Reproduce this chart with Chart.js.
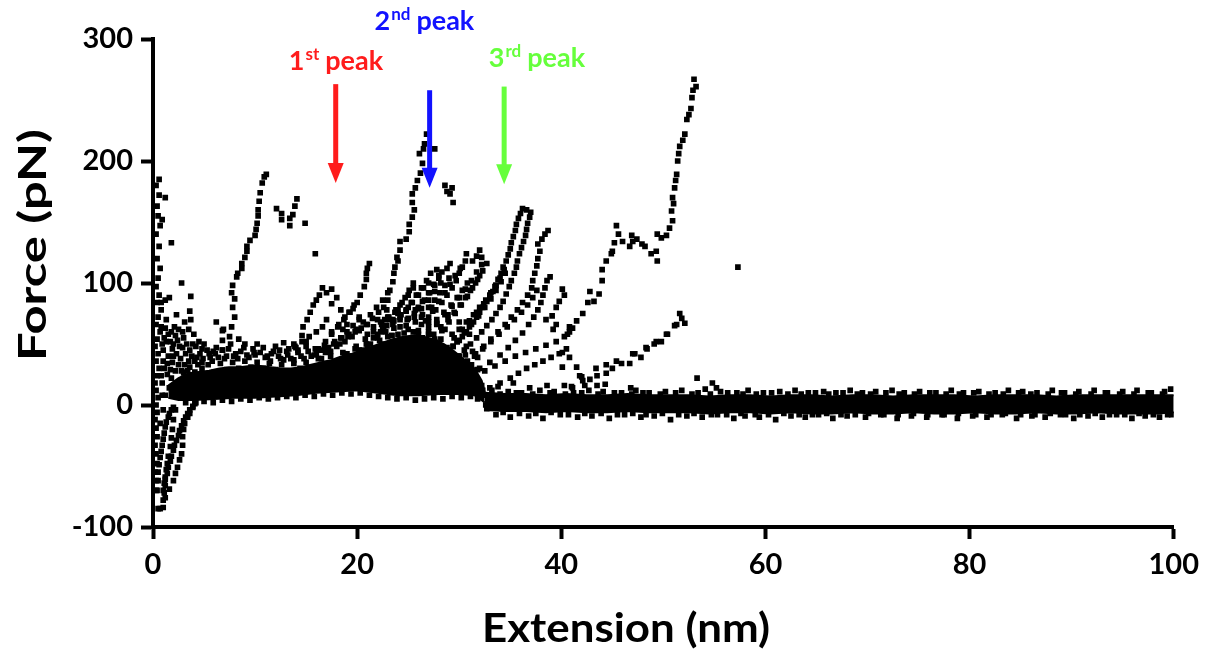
<!DOCTYPE html>
<html>
<head>
<meta charset="utf-8">
<script src="https://cdn.jsdelivr.net/npm/chart.js@4.4.1/dist/chart.umd.min.js"></script>
<style>
  html, body { margin: 0; padding: 0; background: #fff; }
  #wrap { width: 1207px; height: 655px; }
</style>
</head>
<body>
<div id="wrap"><canvas id="forceChart"></canvas></div>
<script>
// tick values
const xTicks = [0, 20, 40, 60, 80, 100];
const yTicks = [-100, 0, 100, 200, 300];

// solid part of the unfolding cloud (upper / lower edge), [extension nm, force pN]
const cloudTop = [[1.5,16],[2.5,22],[3.5,26],[4.5,27],[5.5,28],[6.5,30],[7.5,31],[8.5,31],[9.5,32],[10.5,32],[11.5,31],[12.5,30],[13.5,30],[14.5,31],[15.5,33],[16.5,35],[17.5,37],[18.5,40],[19.5,42],[20.5,45],[21.5,48],[22.5,51],[23.5,54],[24.5,56],[25.5,57],[26.5,56],[27.5,54],[28.5,50],[29.5,44],[30.5,37],[31.5,30],[32.2,20],[32.5,10]];
const cloudBottom = [[1.5,6],[2.5,4],[4,4],[6,5],[8,6],[10,6],[12,7],[14,8],[16,10],[18,11],[20,12],[22,10],[24,8],[26,8],[28,9],[30,9],[31.5,8],[32.5,2]];

// baseline after detachment (upper / lower edge)
const baseTop = [[32.5,10],[34.5,9],[36.5,9],[38.5,8],[40.5,9],[42.5,8],[44.5,8],[46.5,9],[48.5,8],[50.5,8],[52.5,8],[54.5,7],[56.5,8],[58.5,8],[60.5,7],[62.5,8],[64.5,8],[66.5,7],[68.5,8],[70.5,8],[72.5,7],[74.5,8],[76.5,8],[78.5,8],[80.5,7],[82.5,8],[84.5,8],[86.5,8],[88.5,7],[90.5,8],[92.5,8],[94.5,8],[96.5,8],[98.5,8],[100,8]];
const baseBottom = [[32.5,-4],[34.5,-5],[36.5,-5],[38.5,-6],[40.5,-5],[42.5,-6],[44.5,-6],[46.5,-5],[48.5,-6],[50.5,-6],[52.5,-6],[54.5,-7],[56.5,-6],[58.5,-6],[60.5,-7],[62.5,-6],[64.5,-7],[66.5,-7],[68.5,-6],[70.5,-7],[72.5,-7],[74.5,-6],[76.5,-7],[78.5,-7],[80.5,-6],[82.5,-7],[84.5,-7],[86.5,-6],[88.5,-7],[90.5,-7],[92.5,-6],[94.5,-7],[96.5,-7],[98.5,-7],[100,-6]];

// individual traces
const wall = [[0.3,-70],[0.3,-62],[0.2,-55],[0.4,-48],[0.3,-40],[0.2,-33],[0.4,-26],[0.3,-19],[0.2,-12],[0.4,-6],[0.3,0],[0.5,6],[0.3,12],[0.2,18],[0.4,24],[0.6,30],[0.3,36],[0.5,42],[0.2,48],[0.4,54],[0.7,60],[0.3,66],[0.5,72],[0.8,78],[0.4,84],[0.6,90],[0.3,97],[0.5,104],[0.7,112],[0.4,120],[0.6,130],[0.3,140],[0.7,147],[0.5,155],[0.9,152],[0.4,163],[0.6,172],[0.3,180],[0.6,185],[1.2,170],[1.8,133],[0.9,8],[1.0,-4],[0.7,-15],[0.8,24],[1.0,36]];
const dipA = [[0.5,-85],[1.0,-84],[1.0,-78],[1.1,-72],[1.2,-66],[1.2,-61],[1.4,-56],[1.5,-51],[1.7,-46],[1.8,-42],[2.0,-37],[2.1,-33],[2.3,-29],[2.5,-25],[2.6,-21],[2.8,-17],[3.0,-13],[3.2,-10],[3.4,-7],[3.6,-4],[3.9,-1],[4.2,2]];
const dipB = [[0.7,-85],[1.0,-70],[1.1,-64],[1.2,-59],[1.3,-53],[1.4,-48],[1.5,-42],[1.7,-34],[1.8,-27],[1.9,-20],[2.0,-12],[2.2,-4]];
const dipC = [[1.2,-76],[1.6,-69],[2.0,-62],[2.2,-56],[2.4,-51],[2.6,-45],[2.8,-40],[2.9,-33],[2.9,-26],[3.0,-20],[3.1,-15],[3.4,-10],[3.6,-7],[3.9,-2]];
const dipD = [[0.4,-70],[0.5,-62],[0.5,-55],[0.6,-49],[0.7,-43],[0.8,-38],[0.9,-33],[1.0,-28],[1.1,-23],[1.2,-18],[1.3,-14],[1.5,-10],[1.6,-7],[1.8,-4],[2.0,-2]];
const leftCloud = [[1.0,45],[1.3,52],[1.5,58],[1.2,63],[1.8,60],[2.2,57],[2.5,62],[2.0,50],[2.6,48],[3.0,55],[3.3,50],[3.6,45],[3.8,40],[3.5,62],[3.7,70],[3.6,77],[2.8,100],[3.7,89],[1.6,88],[1.2,86],[0.8,84],[1.5,40],[1.9,35],[2.3,42],[2.7,38],[3.1,33],[3.4,28],[1.1,30],[1.4,25],[1.8,22],[2.2,28],[2.6,18],[3.0,22],[3.3,15],[3.8,20],[4.1,27],[4.4,33],[4.6,42],[4.2,48],[4.9,38],[5.3,45],[1.6,14],[2.4,10],[2.9,8],[1.2,8],[0.9,18],[1.9,46],[2.4,53],[4.0,58],[4.5,52],
  [1.1,55],[1.7,52],[2.1,64],[2.9,60],[3.2,42],[3.9,50],[4.3,39],[4.8,46],[5.6,39],[6.1,42],[1.4,34],[2.0,40],[2.5,33],[2.9,47],[3.5,36],[4.1,36],[1.7,29],[2.8,28],[3.6,24],[4.6,24],[0.9,50],[0.8,64],[1.3,70],[2.3,74],[3.1,68]];
const traceA = [[6.8,45],[6.8,53],[6.8,61],[7.5,56],[7.7,64],[8.0,72],[7.8,80],[8.0,87],[7.7,92],[7.8,98],[8.2,105],[8.3,108],[8.7,112],[8.7,116],[9.0,121],[9.2,126],[9.2,130],[9.5,135],[10.0,139],[10.1,144],[10.2,149],[10.3,155],[10.3,160],[10.4,167],[10.5,174],[10.7,182],[10.9,187],[11.1,189]];
const shoulder = [[12.1,161],[12.6,157],[12.6,152],[13.4,147],[13.4,153],[13.7,156],[13.9,163],[14.1,169],[14.9,149],[15.9,124]];
const traceD = [[13.8,50],[14.6,57],[14.7,64],[15.1,70],[15.4,76],[15.7,82],[16.0,86],[16.3,90],[16.6,96],[17.0,92],[17.5,95],[18.0,88],[17.5,83],[18.4,78],[14.2,45],[15.0,52],[17.0,70],[18.6,62]];
const traceC = [[17.5,60],[18.2,66],[18.8,72],[19.3,76],[19.6,79],[20.0,84],[20.3,90],[20.7,97],[20.9,103],[20.9,108],[21.0,112],[21.2,116]];
const traceB = [[22.5,62],[22.7,70],[22.9,78],[23.0,86],[23.2,94],[23.5,101],[23.6,108],[23.7,113],[23.9,121],[24.0,118],[24.2,127],[24.2,134],[24.8,136],[25.1,142],[25.1,148],[25.4,154],[25.6,160],[25.4,166],[25.4,173],[25.7,178],[25.9,184],[26.2,190],[26.4,198],[26.1,206],[26.5,210],[26.6,214],[26.8,222],[27.6,210],[28.6,180],[29.3,178],[29.1,173],[29.4,166],[28.8,175]];
const fanE1 = [[27.0,30],[27.6,35],[28.2,40],[28.8,44],[29.4,48],[29.8,52],[30.3,56],[30.7,60],[31.0,64],[31.4,68],[31.7,72],[32.0,76],[32.3,80],[32.7,85],[33.0,89],[33.3,93],[33.6,98],[33.8,103],[34.1,108],[34.3,113],[34.6,118],[34.8,123],[35.0,128],[35.1,133],[35.3,138],[35.5,143],[35.6,148],[35.8,153],[36.0,157],[36.2,161],[36.6,160]];
const fanE2 = [[28.5,30],[29.2,35],[29.9,40],[30.5,45],[31.1,50],[31.7,55],[32.2,60],[32.7,65],[33.2,70],[33.6,75],[34.0,80],[34.3,85],[34.6,91],[34.9,97],[35.1,102],[35.4,108],[35.6,113],[35.7,118],[35.9,124],[36.1,129],[36.3,134],[36.5,139],[36.6,144],[36.7,149],[36.9,154],[37.0,158]];
const fanE3 = [[30.0,30],[30.8,36],[31.6,42],[32.4,48],[33.1,54],[33.8,60],[34.5,66],[35.1,72],[35.7,78],[36.2,84],[36.7,90],[37.1,96],[37.2,102],[37.4,108],[37.6,114],[37.7,120],[37.9,126],[37.7,132],[38.1,136],[38.4,140],[38.7,143]];
const fanE4 = [[31.0,25],[32.0,30],[33.0,35],[34.0,41],[34.8,47],[35.5,53],[36.2,59],[36.8,66],[37.3,72],[37.7,78],[38.0,84],[38.2,90],[38.4,96],[38.6,102],[38.9,105]];
const fanF = [[25.5,60],[26.3,66],[27.0,72],[27.7,78],[28.3,84],[28.8,90],[29.3,96],[29.7,102],[30.0,108],[30.3,113],[30.6,118],[30.7,124],[31.3,118],[31.7,122],[32.0,127],[32.2,121]];
const fanG = [[26.0,80],[26.6,86],[27.1,92],[27.6,98],[28.0,104],[28.3,109],[28.8,112],[29.1,116],[27.8,111]];
const fanH1 = [[20.5,45],[21.3,50],[22.0,55],[22.8,60],[23.5,66],[24.2,72],[24.8,78],[25.4,84],[26.0,90],[26.5,96],[27.0,100]];
const fanH2 = [[23.0,40],[24.0,46],[25.0,52],[26.0,58],[27.0,64],[27.8,70],[28.5,76],[29.2,82],[29.8,88],[30.3,94],[30.8,100]];
const fanH3 = [[18.0,48],[18.8,52],[19.5,56],[20.2,61],[20.9,66],[21.5,71],[22.1,76],[22.6,80]];
const fanK1 = [[21.5,40],[22.3,48],[23.0,56],[23.6,63],[24.2,70],[24.8,77],[25.3,84],[25.8,90],[26.3,96],[26.8,102],[27.2,108]];
const fanK2 = [[24.5,45],[25.3,53],[26.0,61],[26.7,69],[27.4,77],[28.0,85],[28.6,92],[29.1,99],[29.6,106],[30.1,112]];
const fanK3 = [[26.0,40],[26.8,47],[27.6,54],[28.3,61],[29.0,68],[29.6,75],[30.2,82],[30.8,89],[31.3,96],[31.8,103],[32.3,110],[32.7,116]];
const fanK4 = [[29.0,45],[29.8,52],[30.5,59],[31.2,66],[31.9,73],[32.5,80],[33.1,87],[33.6,94],[34.1,101],[34.5,108]];
const fanK5 = [[31.5,40],[32.3,46],[33.1,52],[33.9,58],[34.7,64],[35.4,70],[36.1,76],[36.7,82],[37.2,88],[37.6,94]];
const fanK6 = [[19.5,40],[20.2,45],[20.9,50],[21.6,55],[22.3,60],[22.9,65],[23.5,70],[24.0,75]];
const fanL1 = [[22.0,58],[22.6,64],[23.2,70],[23.7,76],[24.2,82],[24.7,88],[25.1,94],[25.5,100]];
const fanL2 = [[25.0,62],[25.7,68],[26.4,74],[27.0,80],[27.6,86],[28.1,92],[28.6,98],[29.0,104]];
const fanL3 = [[27.5,58],[28.2,64],[28.9,70],[29.5,76],[30.1,82],[30.6,88],[31.1,94],[31.6,100],[32.0,106]];
const fanL4 = [[30.0,62],[30.7,68],[31.4,74],[32.0,80],[32.6,86],[33.1,92],[33.6,98]];
const fanL5 = [[17.0,45],[17.7,50],[18.4,55],[19.0,60],[19.6,65],[20.2,70]];
const fanM1 = [[15.5,40],[16.2,46],[16.9,52],[17.5,58],[18.1,64],[18.7,70],[19.2,76],[19.7,82]];
const fanM2 = [[16.5,38],[17.4,44],[18.3,50],[19.1,56],[19.9,62],[20.6,68],[21.3,74],[21.9,80],[22.5,86],[23.0,92]];
const fanM3 = [[19.0,42],[19.9,48],[20.8,54],[21.6,60],[22.4,66],[23.1,72],[23.8,78],[24.4,84],[25.0,90],[25.5,96]];
const fanM4 = [[22.5,50],[23.4,57],[24.2,64],[25.0,71],[25.7,78],[26.4,85],[27.0,92],[27.5,99],[28.0,106]];
const fanM5 = [[24.0,58],[24.8,65],[25.6,72],[26.3,79],[27.0,86],[27.6,93],[28.2,100]];
const fanM6 = [[27.0,60],[27.8,67],[28.6,74],[29.3,81],[30.0,88],[30.6,95],[31.2,102],[31.7,109],[32.2,115]];
const fanM7 = [[29.5,55],[30.3,62],[31.0,69],[31.7,76],[32.4,83],[33.0,90],[33.5,97],[34.0,104],[34.4,111]];
const fanM8 = [[11.5,36],[12.3,40],[13.1,44],[13.9,48],[14.6,52],[15.3,56],[16.0,60],[16.6,64]];
const cloudRim = [[3.0,27],[3.6,31],[4.2,25],[4.8,30],[5.4,33],[6.0,27],[6.6,34],[7.2,29],[7.8,35],[8.4,30],[9.0,36],[9.6,31],[10.2,35],[10.8,30],[11.4,34],[12.0,29],[12.6,33],[13.2,28],[13.8,34],[14.4,30],[15.0,35],[15.6,31],[16.2,38],[16.8,34],[17.4,40],[18.0,36],[18.6,43],[19.2,39],[19.8,46],[20.4,42],[21.0,49],[21.6,45],[22.2,53],[22.8,49],[23.4,57],[24.0,52],[24.6,59],[25.2,54],[25.8,60],[26.4,55],[27.0,58],[27.6,52],[28.2,54],[28.8,47],[29.4,48],[30.0,40],[30.6,41],[31.2,33],[31.8,29],
  [4.8,35],[5.9,44],[6.4,39],[7.4,46],[8.1,42],[8.9,47],[9.9,43],[10.8,47],[11.6,42],[12.4,45],[13.3,46],[14.2,43],[15.0,48],[15.9,46],[16.8,49],[7.6,50],[10.2,50],[12.8,51],[5.0,50],[8.4,54]];
const cloudSpecks = [[5.5,42],[6.2,47],[6.8,45],[7.2,40],[8.6,44],[9.2,41],[9.8,46],[10.5,43],[11.2,40],[11.8,44],[12.5,38],[13.2,41],[13.8,37],[14.5,40],[15.2,44],[15.8,41],[16.5,45],[17.2,47],[17.8,52],[18.5,55],[19.2,58],[19.8,60],[20.4,63],[21.0,58],[21.6,64],[22.3,68],[23.0,72],[23.6,69],[24.3,74],[24.9,70],[25.6,75],[26.3,72],[27.0,68],[27.8,66],[28.6,62],[29.3,58],[30.0,53],[30.7,48],[31.3,44],[31.8,39],[6.9,62],[6.2,68],[9.0,50],[12.0,48],[14.0,47],[19.0,66],[20.2,72],
  [7.9,40],[8.3,38],[10.0,41],[11.0,39],[12.8,37],[14.8,38],[16.0,42],[16.9,43],[7.0,38],[5.8,36],[9.4,39],[13.5,38],[24.0,78],[25.0,80],[26.0,79],[27.3,80],[28.9,74],[30.0,68],[31.0,58],[22.0,70],[21.0,66]];
const cloudFloor = [[3.2,2],[4.1,1],[5.0,3],[5.9,2],[6.8,4],[7.7,3],[8.6,5],[9.5,4],[10.4,6],[11.3,5],[12.2,6],[13.1,7],[14.0,6],[14.9,8],[15.8,7],[16.7,9],[17.6,8],[18.5,10],[19.4,9],[20.3,10],[21.2,8],[22.1,7],[23.0,6],[23.9,5],[24.8,6],[25.7,4],[26.6,5],[27.5,6],[28.4,5],[29.3,7],[30.2,6],[31.1,7],[31.8,5],[32.2,16],[32.3,12],[32.4,8],[32.6,0],[32.7,-3]];
const lowRight = [[32.5,28],[33.5,32],[34.5,36],[35.5,40],[36.5,43],[37.5,46],[38.5,49],[39.5,52],[40.3,56],[40.8,60],[33.0,14],[34.0,18],[35.0,22],[35.8,26],[36.6,30],[37.4,33],[38.2,36],[39.0,39],[39.8,42],[40.5,46],[38.5,70],[39.1,73],[39.5,80],[39.8,85],[40.1,95],[40.3,90],[39.2,62],[39.5,66],[40.8,64],[40.1,31],[40.8,39],[41.5,31],[42.0,23],[42.3,16],[43.5,16],[40.1,43],[40.3,16],[41.1,14]];
const traceI = [[40.6,58],[41.1,63],[41.5,69],[42.1,75],[42.6,84],[42.8,93],[43.2,85],[43.7,91],[44.0,102],[44.0,111],[44.4,118],[44.9,124],[45.0,126],[45.2,133],[45.4,147],[45.6,140],[46.0,134],[46.7,130],[46.9,139],[47.0,134],[47.4,136],[47.9,132],[48.2,130],[48.8,124],[49.3,126],[49.4,118],[49.4,140],[49.8,137],[50.3,139],[50.6,145],[50.9,151],[50.8,159],[51.0,165],[50.9,170],[51.1,178],[51.2,184],[51.3,189],[51.4,200],[51.5,206],[51.6,212],[51.9,217],[52.1,222],[52.3,234],[52.5,238],[52.7,243],[52.8,252],[52.9,258],[53.0,267],[53.2,261]];
const traceJ = [[41.8,24],[42.1,20],[42.8,21],[43.5,24],[44.4,26],[45.0,30],[45.9,34],[46.7,34],[47.2,42],[47.8,39],[48.4,46],[49.1,50],[49.8,52],[50.4,58],[51.1,65],[51.6,75],[51.8,71],[52.1,67],[43.4,30],[44.4,33],[45.4,36],[47.0,42],[48.3,47],[49.3,52],[50.3,58],[51.3,66]];
const strays = [[57.3,113],[53.3,22],[54.8,18],[55.2,14],[33.8,15],[35.3,18],[36.9,14],[38.6,16],[41.0,15],[44.3,17],[46.8,14]];
const baseSpecks = [[33.2,12],[34.8,11],[36.1,10],[37.9,12],[39.3,11],[41.2,10],[42.7,12],[44.1,11],[45.9,10],[47.3,12],[48.6,10],[50.2,11],[51.8,12],[53.4,10],[54.1,13],[55.6,11],[57.2,10],[58.3,12],[59.8,10],[61.4,11],[62.9,12],[64.2,10],[65.7,11],[66.9,10],[68.3,12],[69.5,10],[70.8,11],[72.4,12],[73.6,10],[75.1,11],[76.7,10],[78.2,12],[79.4,10],[80.9,11],[82.5,10],[83.8,12],[85.2,11],[86.6,10],[88.1,12],[89.3,10],[90.7,11],[92.2,12],[93.5,10],[95.0,11],[96.4,12],[97.8,10],[99.1,11],[99.7,13],
  [33.6,-8],[35.0,-10],[36.8,-9],[38.2,-11],[39.9,-8],[41.6,-10],[43.0,-9],[44.7,-11],[46.2,-8],[47.8,-10],[49.1,-9],[50.7,-12],[52.3,-9],[53.8,-10],[55.3,-8],[56.9,-11],[58.0,-9],[59.4,-10],[61.0,-12],[62.5,-9],[63.9,-10],[65.2,-8],[66.6,-11],[68.0,-9],[69.8,-10],[71.3,-8],[72.9,-11],[74.3,-9],[75.8,-10],[77.3,-8],[78.8,-11],[80.3,-9],[81.7,-10],[83.2,-8],[84.6,-11],[86.1,-9],[87.4,-10],[88.9,-8],[90.2,-11],[91.6,-9],[93.0,-10],[94.4,-8],[95.9,-11],[97.2,-9],[98.6,-10],[99.8,-8]];
const baseEdge = [[34.0,9],[35.6,10],[37.2,9],[38.9,10],[40.4,9],[42.0,10],[43.6,9],[45.2,10],[46.9,9],[48.0,10],[49.7,9],[51.2,10],[52.8,9],[54.6,9],[56.3,10],[57.8,9],[59.1,9],[60.6,10],[62.2,9],[63.5,9],[64.9,10],[66.2,9],[67.6,10],[69.0,9],[70.3,9],[71.8,10],[73.1,9],[74.6,9],[76.1,10],[77.7,9],[79.0,9],[80.4,10],[81.9,9],[83.3,9],[84.8,10],[86.0,9],[87.7,9],[89.0,10],[90.4,9],[91.9,9],[93.3,10],[94.7,9],[96.1,9],[97.5,10],[98.9,9],
  [34.3,-6],[35.9,-7],[37.5,-7],[39.0,-6],[40.7,-8],[42.3,-7],[43.9,-7],[45.5,-8],[47.0,-7],[48.3,-8],[49.9,-7],[51.5,-8],[53.0,-7],[54.7,-8],[56.2,-8],[57.6,-7],[59.0,-8],[60.3,-8],[61.8,-7],[63.3,-8],[64.6,-8],[66.0,-7],[67.4,-8],[68.8,-8],[70.1,-7],[71.6,-8],[73.0,-8],[74.5,-7],[75.9,-8],[77.5,-8],[78.9,-7],[80.6,-8],[82.1,-8],[83.5,-7],[85.0,-8],[86.4,-8],[87.9,-7],[89.4,-8],[90.8,-8],[92.3,-7],[93.7,-8],[95.2,-8],[96.6,-7],[98.0,-8],[99.4,-8]];

// peak markers: arrow x, arrow top / tip (pN), label start
const peaks = [
  { num: '1', sup: 'st', color: '#ff1c1c', x: 17.9, top: 263, tip: 182, lx: 13.3, ly: 275 },
  { num: '2', sup: 'nd', color: '#1212ff', x: 27.1, top: 258, tip: 178, lx: 21.7, ly: 307 },
  { num: '3', sup: 'rd', color: '#66ff3c', x: 34.4, top: 261, tip: 181, lx: 32.9, ly: 277 }
];

const toXY = arr => arr.map(p => ({ x: p[0], y: p[1] }));
const allPoints = [].concat(wall, dipA, dipB, dipC, dipD, leftCloud, traceA, shoulder, traceD, traceC, traceB,
  fanE1, fanE2, fanE3, fanE4, fanF, fanG, fanH1, fanH2, fanH3, fanK1, fanK2, fanK3, fanK4, fanK5, fanK6,
  fanL1, fanL2, fanL3, fanL4, fanL5, fanM1, fanM2, fanM3, fanM4, fanM5, fanM6, fanM7, fanM8,
  cloudRim, cloudSpecks, cloudFloor, lowRight, traceI, traceJ, strays, baseSpecks, baseEdge);

const FONT = 'Lato, "Open Sans", sans-serif';

function edgeSet(arr, fill) {
  return {
    type: 'line', data: toXY(arr), fill: fill, showLine: true,
    borderColor: '#000', borderWidth: 2, backgroundColor: '#000',
    pointRadius: 0, tension: 0
  };
}

const peakPlugin = {
  id: 'peakMarks',
  afterDraw(chart) {
    const ctx = chart.ctx, xs = chart.scales.x, ys = chart.scales.y;
    ctx.save();
    peaks.forEach(p => {
      const px = xs.getPixelForValue(p.x);
      const pt = ys.getPixelForValue(p.top), pb = ys.getPixelForValue(p.tip);
      ctx.fillStyle = p.color;
      ctx.fillRect(px - 2.5, pt, 5, pb - pt - 18);
      ctx.beginPath();
      ctx.moveTo(px - 8, pb - 20);
      ctx.lineTo(px + 8, pb - 20);
      ctx.lineTo(px, pb);
      ctx.closePath();
      ctx.fill();
      // label with superscript
      let lx = xs.getPixelForValue(p.lx);
      const ly = ys.getPixelForValue(p.ly);
      ctx.textBaseline = 'alphabetic';
      ctx.textAlign = 'left';
      ctx.font = 'bold 27px ' + FONT;
      ctx.fillText(p.num, lx, ly);
      lx += ctx.measureText(p.num).width + 1;
      ctx.font = 'bold 17px ' + FONT;
      ctx.fillText(p.sup, lx, ly - 10);
      lx += ctx.measureText(p.sup).width + 6;
      ctx.font = 'bold 27px ' + FONT;
      ctx.fillText('peak', lx, ly);
    });
    // axis titles
    ctx.fillStyle = '#000';
    ctx.textAlign = 'center';
    ctx.textBaseline = 'middle';
    ctx.font = 'bold 38px ' + FONT;
    let w = ctx.measureText('Force (pN)').width;
    ctx.save();
    ctx.translate(34, 245);
    ctx.rotate(-Math.PI / 2);
    ctx.scale(232 / w, 1);
    ctx.fillText('Force (pN)', 0, 0);
    ctx.restore();
    ctx.font = 'bold 40px ' + FONT;
    w = ctx.measureText('Extension (nm)').width;
    ctx.save();
    ctx.translate(626, 629);
    ctx.scale(288 / w, 1);
    ctx.fillText('Extension (nm)', 0, 0);
    ctx.restore();
    ctx.restore();
  }
};

new Chart(document.getElementById('forceChart'), {
  type: 'scatter',
  data: {
    datasets: [
      edgeSet(cloudTop, '+1'),
      edgeSet(cloudBottom, false),
      edgeSet(baseTop, '+1'),
      edgeSet(baseBottom, false),
      {
        data: toXY(allPoints),
        pointStyle: 'rect',
        pointRadius: 4,
        pointBorderWidth: 0,
        backgroundColor: '#000',
        borderColor: '#000'
      }
    ]
  },
  options: {
    responsive: true,
    maintainAspectRatio: false,
    animation: false,
    devicePixelRatio: 1,
    layout: { padding: { top: 39, right: 32, left: 0, bottom: 0 } },
    plugins: { legend: { display: false }, tooltip: { enabled: false } },
    scales: {
      x: {
        type: 'linear', min: 0, max: 100,
        afterFit: s => { s.height = 128; },
        afterBuildTicks: s => { s.ticks = xTicks.map(v => ({ value: v })); },
        border: { display: true, width: 4, color: '#000' },
        grid: { drawOnChartArea: false, drawTicks: true, tickLength: 12, tickWidth: 4, tickColor: '#000' },
        ticks: { color: '#000', padding: 8, maxRotation: 0, font: { family: FONT, size: 29, weight: 'bold' } }
      },
      y: {
        type: 'linear', min: -100, max: 300,
        afterFit: s => { s.width = 153; },
        afterBuildTicks: s => { s.ticks = yTicks.map(v => ({ value: v })); },
        border: { display: true, width: 4, color: '#000' },
        grid: { drawOnChartArea: false, drawTicks: true, tickLength: 12, tickWidth: 4, tickColor: '#000' },
        ticks: { color: '#000', padding: 8, font: { family: FONT, size: 29, weight: 'bold' } }
      }
    }
  },
  plugins: [peakPlugin]
});
</script>
</body>
</html>
